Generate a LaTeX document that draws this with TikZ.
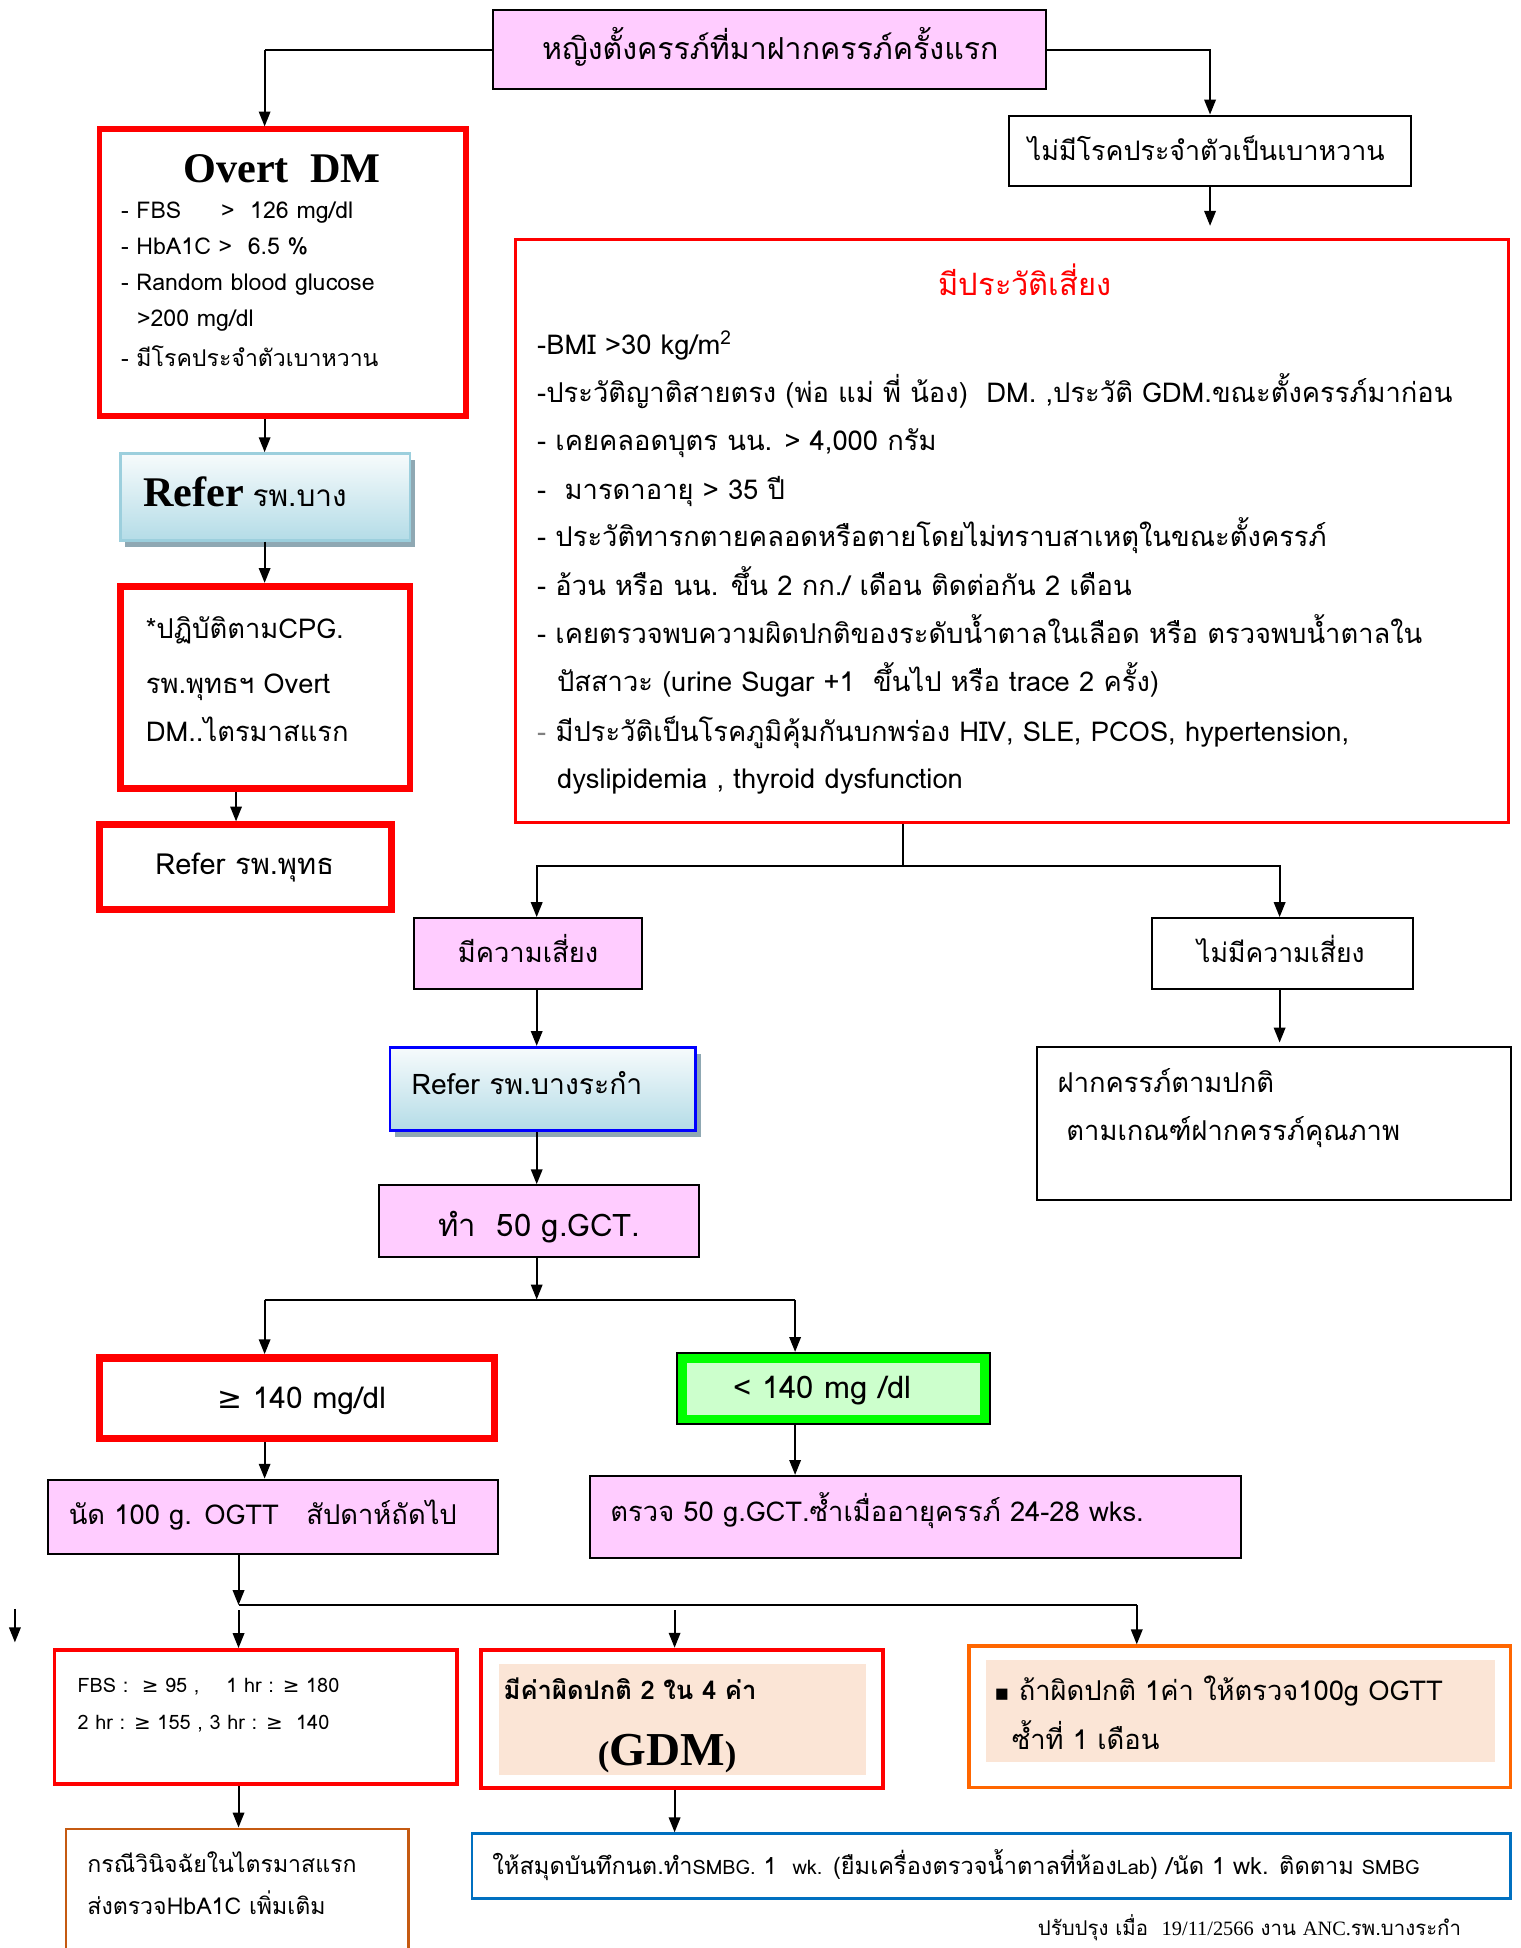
\documentclass[tikz,border=0pt]{standalone}
\usepackage{fontspec}
\setmainfont[Script=Thai]{Loma}
\newfontfamily\tnr{Liberation Serif}
\newfontfamily\dvs{DejaVu Sans}
\usetikzlibrary{arrows.meta,fit,shadows}
\definecolor{pinkf}{HTML}{FFCCFF}
\definecolor{redc}{HTML}{FF0000}
\definecolor{greenc}{HTML}{00FF00}
\definecolor{lgreen}{HTML}{CCFFCC}
\definecolor{peach}{HTML}{FBE5D6}
\definecolor{orangec}{HTML}{FF6600}
\definecolor{brownc}{HTML}{C55A11}
\definecolor{bluec}{HTML}{0070C0}
\definecolor{blueb}{HTML}{0000FF}
\definecolor{gradtop}{HTML}{F7FBFC}
\definecolor{gradbot}{HTML}{B4DCE7}
\definecolor{ebord}{HTML}{9CCFDD}
\definecolor{shadowc}{HTML}{8FA8B3}
\newcommand\fs[1]{\fontsize{#1}{#1}\selectfont}
\begin{document}
\begin{tikzpicture}[x=0.5pt,y=-0.5pt,
  conn/.style={draw=black,line width=0.8pt},
  arr/.style={conn,-{Triangle[length=6pt,width=4.6pt]}},
  bx/.style={inner sep=0pt,draw=black,line width=0.8pt},
  pinkbox/.style={bx,fill=pinkf},
  whitebox/.style={bx,fill=white},
  redbox/.style={bx,draw=redc,fill=white,line width=#1},
  redbox/.default=2pt,
  gradbox/.style={bx,top color=gradtop,bottom color=gradbot,
    drop shadow={shadow xshift=2pt,shadow yshift=-2.5pt,fill=shadowc,opacity=1}},
  tx/.style={inner sep=0pt,anchor=base west},
  tc/.style={inner sep=0pt,anchor=base}
]
\useasboundingbox (0,0) rectangle (1224,1568);
\fill[white] (0,0) rectangle (1224,1568);

% ---------- boxes ----------
\node[pinkbox, fit={(397,8) (842,72)}] (A) {};
\node[whitebox, fit={(812,93) (1136,150)}] (B) {};
\node[redbox=1.2pt, fit={(415,193) (1214,662)}] (C) {};
\node[redbox=2.2pt, fit={(80,104) (375,335)}] (D) {};
\node[gradbox, draw=ebord, line width=1pt, fit={(97,365) (330,435)}] (E) {};
\node[redbox=2.8pt, fit={(97,472) (330,635)}] (F) {};
\node[redbox=2.8pt, fit={(80,664) (315,732)}] (G) {};
\node[pinkbox, fit={(333,739) (517,796)}] (H) {};
\node[whitebox, fit={(927,739) (1137,796)}] (T) {};
\node[gradbox, draw=blueb, line width=1.1pt, fit={(314,843) (560,910)}] (I) {};
\node[whitebox, fit={(835,843) (1216,966)}] (U) {};
\node[pinkbox, fit={(305,954) (563,1012)}] (J) {};
\node[redbox=3pt, fit={(80,1093) (398,1158)}] (K) {};
\node[bx, fill=greenc, fit={(545,1089) (797,1146)}] (L) {};
\node[inner sep=0pt, fill=lgreen, fit={(553,1097) (789,1139)}] (Lin) {};
\node[pinkbox, fit={(39,1191) (401,1251)}] (M) {};
\node[pinkbox, fit={(475,1188) (999,1254)}] (N) {};
\node[redbox=1.4pt, fit={(44,1328) (368,1436)}] (O) {};
\node[redbox=1.7pt, fit={(387,1328) (711,1439)}] (P) {};
\node[inner sep=0pt, fill=peach, fit={(402,1339) (697,1429)}] (Pin) {};
\node[bx, draw=orangec, fill=white, line width=1.4pt, fit={(780,1325) (1216,1439)}] (Q) {};
\node[inner sep=0pt, fill=peach, fit={(794,1336) (1203,1418)}] (Qin) {};
\node[bx, draw=brownc, fill=white, line width=1pt, fit={(53,1472) (329,1600)}] (R) {};
\node[bx, draw=bluec, fill=white, line width=1.1pt, fit={(380,1476) (1216,1528)}] (S) {};

% ---------- texts ----------
\node[tc, font=\fs{12.2}] (At) at (620,48) {หญิงตั้งครรภ์ที่มาฝากครรภ์ครั้งแรก};
\node[tc, font=\fs{10.8}] (Bt) at (971,129) {ไม่มีโรคประจำตัวเป็นเบาหวาน};

\node[tc, font=\fs{12.4}, text=redc] (Ct) at (825,238) {มีประวัติเสี่ยง};
\begin{scope}[every node/.style={tx, font=\fs{11}}]
\node (c1) at (432,285) {-BMI >30 kg/m\textsuperscript{2}};
\node (c2) at (432,324) {-ประวัติญาติสายตรง (พ่อ แม่ พี่ น้อง)\ \ DM. ,ประวัติ GDM.ขณะตั้งครรภ์มาก่อน};
\node (c3) at (432,363) {- เคยคลอดบุตร นน. > 4,000 กรัม};
\node (c4) at (432,402) {-\ \ มารดาอายุ > 35 ปี};
\node (c5) at (432,440) {- ประวัติทารกตายคลอดหรือตายโดยไม่ทราบสาเหตุในขณะตั้งครรภ์};
\node (c6) at (432,479) {- อ้วน หรือ นน. ขึ้น 2 กก./ เดือน ติดต่อกัน 2 เดือน};
\node (c7) at (432,518) {- เคยตรวจพบความผิดปกติของระดับน้ำตาลในเลือด หรือ ตรวจพบน้ำตาลใน};
\node (c8) at (448,557) {ปัสสาวะ (urine Sugar +1\ \ ขึ้นไป หรือ trace 2 ครั้ง)};
\node (c9) at (432,597) {{\color{gray}-} มีประวัติเป็นโรคภูมิคุ้มกันบกพร่อง HIV, SLE, PCOS, hypertension,};
\node (c10) at (448,635) {dyslipidemia , thyroid dysfunction};
\end{scope}

\node[tc, font=\tnr\bfseries\fs{17}] (Dt) at (227,147) {Overt\ \ DM};
\begin{scope}[every node/.style={tx, font=\fs{9.3}}]
\node (d1) at (97,176) {- FBS\hspace{16pt}>\ \ 126 mg/dl};
\node (d2) at (97,205) {- HbA1C >\ \ 6.5 \%};
\node (d3) at (97,234) {- Random blood glucose};
\node (d4) at (110,263) {>200 mg/dl};
\node (d5) at (97,295) {- มีโรคประจำตัวเบาหวาน};
\end{scope}

\node[tx] (Et) at (115,408) {{\tnr\bfseries\fs{17}Refer} {\fs{12}รพ.บาง}};

\begin{scope}[every node/.style={tx, font=\fs{11}}]
\node (f1) at (117,514) {*ปฏิบัติตามCPG.};
\node (f2) at (117,558) {รพ.พุทธฯ Overt};
\node (f3) at (117,597) {DM..ไตรมาสแรก};
\end{scope}
\node[tc, font=\fs{11.7}] (Gt) at (197,704) {Refer รพ.พุทธ};
\node[tc, font=\fs{11}] (Ht) at (425,775) {มีความเสี่ยง};
\node[tc, font=\fs{10.7}] (Tt) at (1031,775) {ไม่มีความเสี่ยง};
\node[tx, font=\fs{11.4}] (It) at (331,881) {Refer รพ.บางระกำ};
\node[tx, font=\fs{11}] (U1) at (851,879) {ฝากครรภ์ตามปกติ};
\node[tx, font=\fs{11}] (U2) at (858,918) {ตามเกณฑ์ฝากครรภ์คุณภาพ};
\node[tc, font=\fs{12.5}] (Jt) at (434,995) {ทำ\ \ 50 g.GCT.};
\node[tc, font=\fs{12}] (Kt) at (243,1134) {{\dvs ≥} 140 mg/dl};
\node[tc, font=\fs{12.5}] (Lt) at (662,1126) {< 140 mg /dl};
\node[tx, font=\fs{11}] (Mt) at (55,1227) {นัด 100 g. OGTT\ \ \ สัปดาห์ถัดไป};
\node[tx, font=\fs{11}] (Nt) at (491,1225) {ตรวจ 50 g.GCT.ซ้ำเมื่ออายุครรภ์ 24-28 wks.};
\node[tx, font=\fs{8}] (O1) at (62,1362) {FBS :\ \ {\dvs ≥} 95 ,\ \ \ \ 1 hr : {\dvs ≥} 180};
\node[tx, font=\fs{8}] (O2) at (62,1392) {2 hr : {\dvs ≥} 155 , 3 hr : {\dvs ≥}\ \ 140};
\node[tx, font=\bfseries\fs{10.3}] (P1) at (405,1368) {มีค่าผิดปกติ 2 ใน 4 ค่า};
\node[tc, font=\tnr\bfseries\fs{19}] (P2) at (537,1421) {{\fs{14}(}GDM{\fs{14})}};
\node[tx, font=\fs{11}] (Q1) at (800,1369) {{\dvs\fs{9}▪} ถ้าผิดปกติ 1ค่า ให้ตรวจ100g OGTT};
\node[tx, font=\fs{11}] (Q2) at (814,1408) {ซ้ำที่ 1 เดือน};
\node[tx, font=\fs{9.3}] (R1) at (70,1507) {กรณีวินิจฉัยในไตรมาสแรก};
\node[tx, font=\fs{9.3}] (R2) at (70,1541) {ส่งตรวจHbA1C เพิ่มเติม};
\node[tx, font=\fs{9.5}] (St) at (396,1509) {ให้สมุดบันทึกนต.ทำ{\fs{8}SMBG.} 1\ \ {\fs{8}wk.} (ยืมเครื่องตรวจน้ำตาลที่ห้อง{\fs{8}Lab}) /นัด 1 wk. ติดตาม {\fs{8}SMBG}};
\node[tx, font=\fs{8.2}] (Ft) at (835,1558) {ปรับปรุง เมื่อ\ \ {\tnr 19/11/2566} งาน {\tnr ANC.}รพ.บางระกำ};

% ---------- connectors ----------
\coordinate (j1) at (213,40);
\coordinate (v1) at (213,0);
\coordinate (v2) at (190,0);
\coordinate (v3) at (727,0);
\coordinate (cj) at (727,697);
\coordinate (sp) at (432,0);
\coordinate (v4) at (1030,0);
\coordinate (gj) at (432,1046);
\coordinate (v5) at (213,0);
\coordinate (v6) at (640,0);
\coordinate (v7) at (192,0);
\coordinate (mj) at (192,1292);
\coordinate (mo) at (192,1296);
\coordinate (mp) at (543,1296);
\coordinate (v8) at (543,0);
\coordinate (v9) at (915,0);
\coordinate (s1) at (12,1295);
\coordinate (s2) at (12,1322);

\draw[conn] (A.west) -- (j1);
\draw[arr] (j1) -- (j1 |- D.north);
\draw[arr] (A.east) -| (B.north);
\draw[arr, shorten >=5pt] (B.south) -- (B.south |- C.north);
\draw[arr] (v1 |- D.south) -- (v1 |- E.north);
\draw[arr] (v1 |- E.south) -- (v1 |- F.north);
\draw[arr] (v2 |- F.south) -- (v2 |- G.north);
\draw[conn] (v3 |- C.south) -- (cj);
\draw[arr] (cj) -| (sp |- H.north);
\draw[arr] (cj) -| (v4 |- T.north);
\draw[arr] (sp |- H.south) -- (sp |- I.north);
\draw[arr, shorten >=1.5pt] (v4 |- T.south) -- (v4 |- U.north);
\draw[arr] (sp |- I.south) -- (sp |- J.north);
\draw[arr] (sp |- J.south) -- (gj);
\draw[conn] (v5 |- gj) -- (v6 |- gj);
\draw[arr] (v5 |- gj) -- (v5 |- K.north);
\draw[arr] (v6 |- gj) -- (v6 |- L.north);
\draw[arr] (v5 |- K.south) -- (v5 |- M.north);
\draw[arr] (v6 |- L.south) -- (v6 |- N.north);
\draw[arr] (v7 |- M.south) -- (mj);
\draw[conn] (mj) -- (v9 |- mj);
\draw[arr] (mo) -- (v7 |- O.north);
\draw[arr] (mp) -- (v8 |- P.north);
\draw[arr] (v9 |- mj) -- (v9 |- Q.north);
\draw[arr] (s1) -- (s2);
\draw[arr] (v7 |- O.south) -- (v7 |- R.north);
\draw[arr] (v8 |- P.south) -- (v8 |- S.north);
\end{tikzpicture}
\end{document}
